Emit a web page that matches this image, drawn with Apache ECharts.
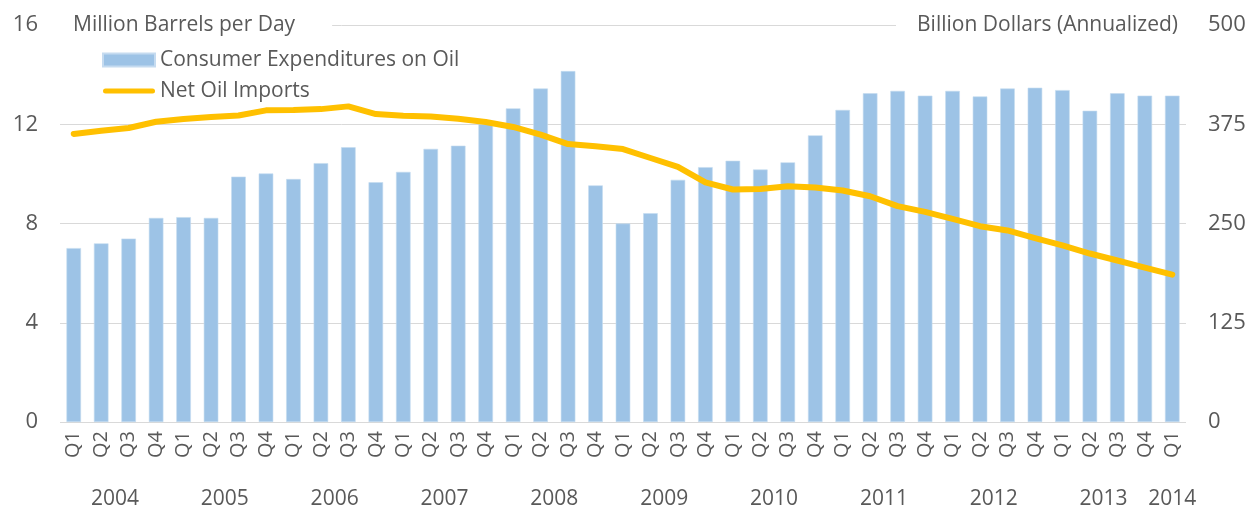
<!DOCTYPE html>
<html>
<head>
<meta charset="utf-8">
<script src="https://cdn.jsdelivr.net/npm/echarts@6/dist/echarts.min.js"></script>
<style>
html,body{margin:0;padding:0;background:#fff;}
#chart{width:1254px;height:510px;}
</style>
</head>
<body>
<div id="chart"></div>
<script>
// Quarters (2004 Q1 .. 2014 Q1)
const quarters = ['Q1','Q2','Q3','Q4','Q1','Q2','Q3','Q4','Q1','Q2','Q3','Q4','Q1','Q2','Q3','Q4',
  'Q1','Q2','Q3','Q4','Q1','Q2','Q3','Q4','Q1','Q2','Q3','Q4','Q1','Q2','Q3','Q4',
  'Q1','Q2','Q3','Q4','Q1','Q2','Q3','Q4','Q1'];
const quarterYears = ['2004','2004','2004','2004','2005','2005','2005','2005','2006','2006','2006','2006',
  '2007','2007','2007','2007','2008','2008','2008','2008','2009','2009','2009','2009',
  '2010','2010','2010','2010','2011','2011','2011','2011','2012','2012','2012','2012',
  '2013','2013','2013','2013','2014'];
const yearLabels = ['2004','2005','2006','2007','2008','2009','2010','2011','2012','2013','2014'];

// Consumer Expenditures on Oil (Billion Dollars, annualized) - right axis
const consumerExpenditures = [219,225,231,257,258,257,309,313,306,326,346,302,
  315,344,348,375,395,420,442,298,250,263,305,321,329,318,327,361,
  393,414,417,411,417,410,420,421,418,392,414,411,411];
// Net Oil Imports (Million Barrels per Day) - left axis
const netOilImports = [11.61,11.74,11.85,12.10,12.21,12.29,12.35,12.56,12.57,12.61,12.72,12.41,
  12.34,12.31,12.22,12.09,11.89,11.58,11.20,11.11,11.00,10.64,10.28,9.66,
  9.37,9.39,9.50,9.45,9.33,9.10,8.70,8.47,8.19,7.89,7.72,7.41,7.12,6.79,6.51,6.22,5.94];

const leftTicks = {min:0, max:16, interval:4};
const rightTicks = {min:0, max:500, interval:125};

// year label positions: centre of each year's quarters on a boundary scale
const yearPos = {};
yearLabels.forEach(y => {
  const idx = quarterYears.map((v,i)=>v===y?i:-1).filter(i=>i>=0);
  const mid = (idx[0] + idx[idx.length-1]) / 2 + 0.5;
  yearPos[mid.toFixed(1)] = y;
});

const FONT = '"Open Sans", "Noto Sans", sans-serif';
const TXT = '#595959';
// thin rounded bar inside a 52x13 box for the line legend icon
const LINE_ICON = 'path://M0,0M52,13M2.5,4L49.5,4A2.5,2.5,0,0,1,49.5,9L2.5,9A2.5,2.5,0,0,1,2.5,4Z';

const chart = echarts.init(document.getElementById('chart'), null, {renderer:'canvas'});
chart.setOption({
  animation:false,
  backgroundColor:'#fff',
  textStyle:{fontFamily:FONT},
  grid:{left:60, right:68, top:25, bottom:87, containLabel:false},
  legend:{
    orient:'vertical', left:97, top:44, itemWidth:52, itemHeight:13, itemGap:9,
    textStyle:{fontSize:21, color:TXT, fontFamily:FONT, lineHeight:22},
    data:[{name:'Consumer Expenditures on Oil', icon:'rect'},
          {name:'Net Oil Imports', icon:LINE_ICON, itemStyle:{color:'#ffc000'}}]
  },
  xAxis:[{
    type:'category', data:quarters, boundaryGap:true,
    axisLine:{show:false}, axisTick:{show:false},
    axisLabel:{rotate:90, fontSize:20, color:TXT, margin:9, interval:0, fontFamily:FONT}
  },{
    type:'value', min:0, max:quarters.length, interval:0.5, position:'bottom',
    axisLine:{show:false}, axisTick:{show:false}, splitLine:{show:false},
    axisLabel:{margin:67, fontSize:21, color:TXT, fontFamily:FONT, showMinLabel:true, showMaxLabel:true,
      formatter:v => yearPos[v.toFixed(1)] || ''}
  }],
  yAxis:[{
    type:'value', min:leftTicks.min, max:leftTicks.max, interval:leftTicks.interval,
    name:'Million Barrels per Day', nameLocation:'end', nameGap:0,
    nameTextStyle:{fontSize:21, color:TXT, fontFamily:FONT, align:'left', verticalAlign:'middle',
      backgroundColor:'#fff', padding:[2,37,2,13]},
    axisLine:{show:false}, axisTick:{show:false},
    axisLabel:{fontSize:22, color:TXT, margin:22, fontFamily:FONT},
    splitLine:{lineStyle:{color:'#d9d9d9', width:1}}
  },{
    type:'value', min:rightTicks.min, max:rightTicks.max, interval:rightTicks.interval,
    name:'Billion Dollars (Annualized)', nameLocation:'end', nameGap:0,
    nameTextStyle:{fontSize:21, color:TXT, fontFamily:FONT, align:'right', verticalAlign:'middle',
      backgroundColor:'#fff', padding:[2,8,2,21]},
    axisLine:{show:false}, axisTick:{show:false},
    axisLabel:{fontSize:22, color:TXT, margin:22, fontFamily:FONT},
    splitLine:{show:false}
  }],
  series:[{
    name:'Consumer Expenditures on Oil', type:'bar', xAxisIndex:0, yAxisIndex:1,
    data:consumerExpenditures, barWidth:'53%',
    itemStyle:{color:'#9dc3e6', borderColor:'#c5dbf0', borderWidth:0.6}
  },{
    name:'Net Oil Imports', type:'line', xAxisIndex:0, yAxisIndex:0,
    data:netOilImports, symbol:'none', z:5,
    lineStyle:{color:'#ffc000', width:6, cap:'round', join:'round'},
    itemStyle:{color:'#ffc000'}
  }]
});
</script>
</body>
</html>
